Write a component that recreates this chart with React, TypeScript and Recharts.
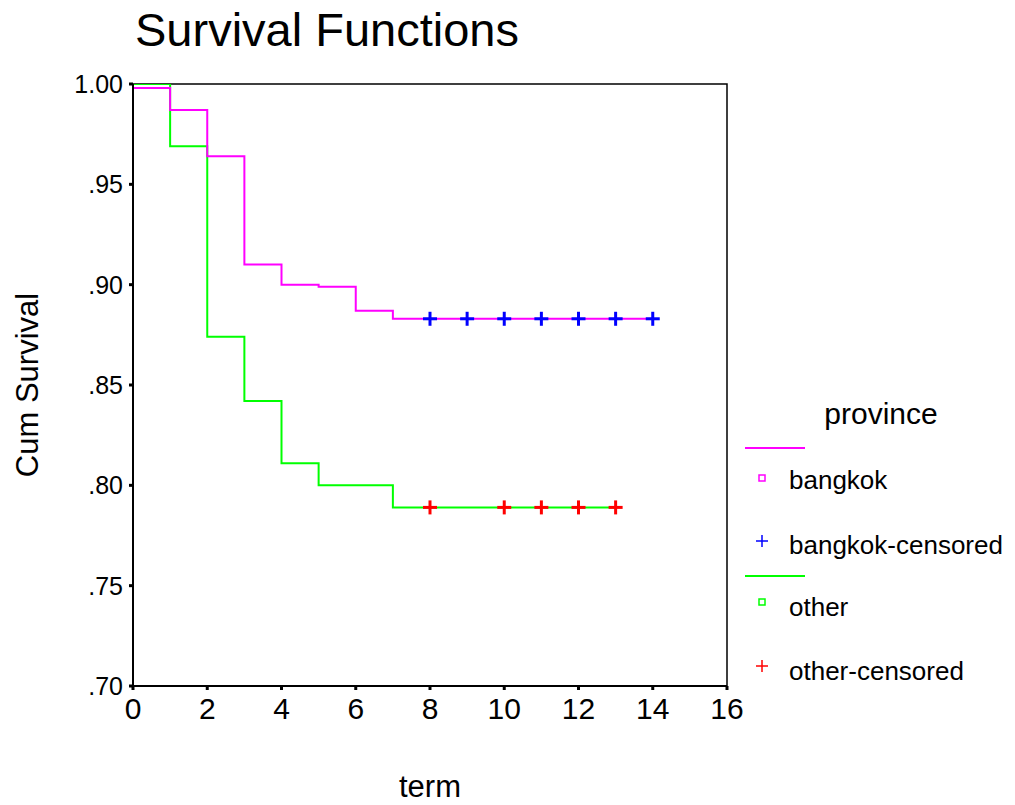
import { ComposedChart, Line, Scatter, XAxis, YAxis, ReferenceArea, Legend } from 'recharts';

// Kaplan-Meier step estimates
const bangkokTimes = [0, 1, 2, 3, 4, 5, 6, 7, 14];
const bangkokSurvival = [0.998, 0.987, 0.964, 0.91, 0.9, 0.899, 0.887, 0.883, 0.883];
const otherTimes = [0, 1, 2, 3, 4, 5, 7, 13];
const otherSurvival = [1.0, 0.969, 0.874, 0.842, 0.811, 0.8, 0.789, 0.789];

const bangkokCensoredTimes = [8, 9, 10, 11, 12, 13, 14];
const bangkokCensoredSurvival = [0.883, 0.883, 0.883, 0.883, 0.883, 0.883, 0.883];
const otherCensoredTimes = [8, 10, 11, 12, 13];
const otherCensoredSurvival = [0.789, 0.789, 0.789, 0.789, 0.789];

const xTicks = [0, 2, 4, 6, 8, 10, 12, 14, 16];
const yTicks = [0.7, 0.75, 0.8, 0.85, 0.9, 0.95, 1.0];

const FONT = '"Liberation Sans", Arial, sans-serif';

const toPoints = (times: number[], vals: number[]) => times.map((t, i) => ({ t, s: vals[i] }));

const bangkokData = toPoints(bangkokTimes, bangkokSurvival);
const otherData = toPoints(otherTimes, otherSurvival);
const bangkokCensored = toPoints(bangkokCensoredTimes, bangkokCensoredSurvival);
const otherCensored = toPoints(otherCensoredTimes, otherCensoredSurvival);

const fmtY = (v: number) => (v >= 1 ? '1.00' : v.toFixed(2).replace(/^0/, ''));

function plus(color: string) {
  return (props: any) => {
    const { cx, cy } = props;
    return (
      <g>
        <line x1={cx - 7} x2={cx + 7} y1={cy} y2={cy} stroke={color} strokeWidth={3} />
        <line x1={cx} x2={cx} y1={cy - 7} y2={cy + 7} stroke={color} strokeWidth={3} />
      </g>
    );
  };
}

function LegendBox() {
  const item = { fontSize: 26, fontFamily: FONT, fill: '#000' };
  return (
    <svg width={275} height={310}>
      <text x={141} y={39} textAnchor="middle" fontSize={30} fontFamily={FONT}>province</text>
      <line x1={5} x2={65} y1={63} y2={63} stroke="#ff00ff" strokeWidth={2} />
      <rect x={19} y={90} width={6} height={6} fill="none" stroke="#ff00ff" strokeWidth={1.5} />
      <text x={49} y={104} {...item}>bangkok</text>
      <line x1={16} x2={28} y1={156} y2={156} stroke="#0000ff" strokeWidth={1.5} />
      <line x1={22} x2={22} y1={150} y2={162} stroke="#0000ff" strokeWidth={1.5} />
      <text x={49} y={169} {...item}>bangkok-censored</text>
      <line x1={5} x2={65} y1={191} y2={191} stroke="#00ff00" strokeWidth={2} />
      <rect x={19} y={214} width={6} height={6} fill="none" stroke="#00ff00" strokeWidth={1.5} />
      <text x={49} y={231} {...item}>other</text>
      <line x1={16} x2={28} y1={281} y2={281} stroke="#ff0000" strokeWidth={1.5} />
      <line x1={22} x2={22} y1={275} y2={287} stroke="#ff0000" strokeWidth={1.5} />
      <text x={49} y={295} {...item}>other-censored</text>
    </svg>
  );
}

export default function App() {
  return (
    <div style={{ position: 'absolute', left: 0, top: 0, width: 1015, height: 805, background: '#fff', fontFamily: FONT }}>
      <div style={{ position: 'absolute', left: 135, top: 6, fontSize: 47, lineHeight: 1, whiteSpace: 'nowrap' }}>
        Survival Functions
      </div>
      <div
        style={{
          position: 'absolute', left: 27, top: 385, fontSize: 31, lineHeight: 1, whiteSpace: 'nowrap',
          transform: 'translate(-50%, -50%) rotate(-90deg)',
        }}
      >
        Cum Survival
      </div>
      <div
        style={{
          position: 'absolute', left: 430, top: 786, fontSize: 31, lineHeight: 1, whiteSpace: 'nowrap',
          transform: 'translate(-50%, -50%)',
        }}
      >
        term
      </div>
      <ComposedChart width={1015} height={805} margin={{ top: 84, right: 288, bottom: 79, left: 73 }}>
        <XAxis
          type="number"
          dataKey="t"
          domain={[0, 16]}
          ticks={xTicks}
          allowDataOverflow
          height={40}
          axisLine={{ stroke: '#000', strokeWidth: 2 }}
          tickLine={{ stroke: '#000', strokeWidth: 3 }}
          tickSize={4}
          tickMargin={8}
          tick={{ fill: '#000', fontSize: 30, fontFamily: FONT }}
        />
        <YAxis
          type="number"
          domain={[0.7, 1]}
          ticks={yTicks}
          allowDataOverflow
          width={60}
          tickFormatter={fmtY}
          axisLine={{ stroke: '#000', strokeWidth: 2 }}
          tickLine={{ stroke: '#000', strokeWidth: 3 }}
          tickSize={4}
          tickMargin={6}
          tick={{ fill: '#000', fontSize: 25, fontFamily: FONT }}
        />
        <ReferenceArea x1={0} x2={16} y1={0.7} y2={1} fill="none" stroke="#000" strokeWidth={1.5} ifOverflow="visible" />
        <Line data={otherData} dataKey="s" type="stepAfter" stroke="#00ff00" strokeWidth={2} dot={false} isAnimationActive={false} />
        <Line data={bangkokData} dataKey="s" type="stepAfter" stroke="#ff00ff" strokeWidth={2} dot={false} isAnimationActive={false} />
        <Scatter data={bangkokCensored} dataKey="s" shape={plus('#0000ff')} isAnimationActive={false} />
        <Scatter data={otherCensored} dataKey="s" shape={plus('#ff0000')} isAnimationActive={false} />
        <Legend
          layout="horizontal"
          align="center"
          verticalAlign="middle"
          content={() => <LegendBox />}
          wrapperStyle={{ position: 'absolute', left: 740, top: 385, width: 275, height: 310 }}
        />
      </ComposedChart>
    </div>
  );
}
